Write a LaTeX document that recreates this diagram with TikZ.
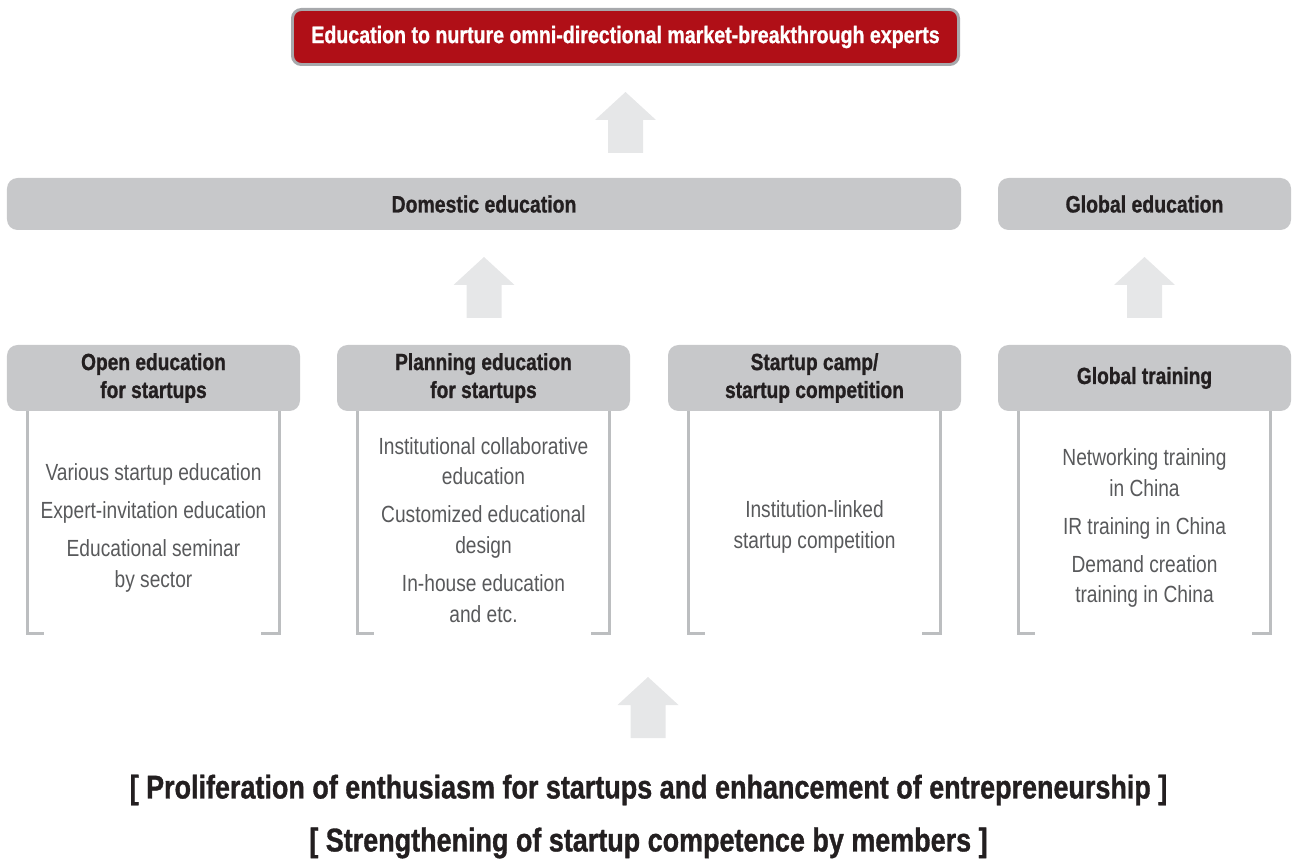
\documentclass[tikz,border=0pt]{standalone}
\usepackage{fontspec}
\setmainfont{Liberation Sans}[FakeStretch=0.82, BoldFeatures={FakeBold=1}]

\definecolor{titlered}{HTML}{B00F17}
\definecolor{titleedge}{HTML}{A7A9AC}
\definecolor{boxgray}{HTML}{C7C8CA}
\definecolor{arrowgray}{HTML}{E6E7E8}
\definecolor{linegray}{HTML}{BCBEC0}
\definecolor{textgray}{HTML}{58595B}
\definecolor{textdark}{HTML}{231F20}

\begin{document}
\begin{tikzpicture}
[x=0.2mm, y=-0.2mm,
 goalbox/.style={fill=titlered, draw=titleedge, line width=1.7pt, rounded corners=5pt,
   minimum width=133.2mm, minimum height=11mm, text=white,
   font=\bfseries\fontsize{13.6}{16}\selectfont},
 bar/.style={fill=boxgray, rounded corners=6pt, minimum height=10.4mm, text=textdark,
   font=\bfseries\fontsize{13.5}{16}\selectfont},
 head/.style={fill=boxgray, rounded corners=6pt, minimum width=58.6mm, minimum height=13.2mm,
   align=center, text=textdark, font=\bfseries\fontsize{13.3}{15.9}\selectfont},
 items/.style={align=center, text=textgray, font=\fontsize{13.3}{17.6}\selectfont},
 bracket/.style={draw=linegray, line width=1.7pt},
 slogan/.style={text=textdark, font=\bfseries\fontsize{18.7}{22}\selectfont}]
\useasboundingbox (0,0) rectangle (1292,859);

\node [goalbox] (goal) at (625.5,37) {Education to nurture omni-directional market-breakthrough experts};

\node [bar, minimum width=190.8mm] (domestic) at (484,204) {Domestic education};
\node [bar, minimum width=58.6mm] (global) at (1144.5,204) {Global education};

\foreach \n/\x/\t in {open/153.5/{Open education\\for startups},
                      plan/483.5/{Planning education\\for startups},
                      camp/814.5/{Startup camp/\\startup competition},
                      train/1144.5/{Global training}}{
	\node [head] (\n) at (\x,378) {\t};
	\draw [bracket] ([xshift=4.2mm]\n.south west) -- ++(0,222) -- ++(16,0);
	\draw [bracket] ([xshift=-4.2mm]\n.south east) -- ++(0,222) -- ++(-18,0);
}

\node [items] (openlist) at (153.5,528) {Various startup education\\[4pt]
	Expert-invitation education\\[4pt] Educational seminar\\by sector};
\node [items] (planlist) at (483.5,530) {Institutional collaborative\\education\\[4pt]
	Customized educational\\design\\[4pt] In-house education\\and etc.};
\node [items] (camplist) at (814.5,527) {Institution-linked\\startup competition};
\node [items] (trainlist) at (1144.5,528) {Networking training\\in China\\[4pt]
	IR training in China\\[4pt] Demand creation\\training in China};

% block arrows
\foreach \i/\x/\y in {1/625.5/153, 2/484/318, 3/1144.5/318, 4/648/738}{
	\coordinate (up\i) at (\x,\y);
	\fill [arrowgray] (up\i) ++(-17.5,0) -- ++(0,-33) -- ++(-13,0) -- ++(30.5,-28)
		-- ++(30.5,28) -- ++(-13,0) -- ++(0,33) -- cycle;
}

\node [slogan] (slogan1) at (648.5,790) {[ Proliferation of enthusiasm for startups and enhancement of entrepreneurship ]};
\node [slogan] (slogan2) at (648.5,843) {[ Strengthening of startup competence by members ]};
\end{tikzpicture}
\end{document}
